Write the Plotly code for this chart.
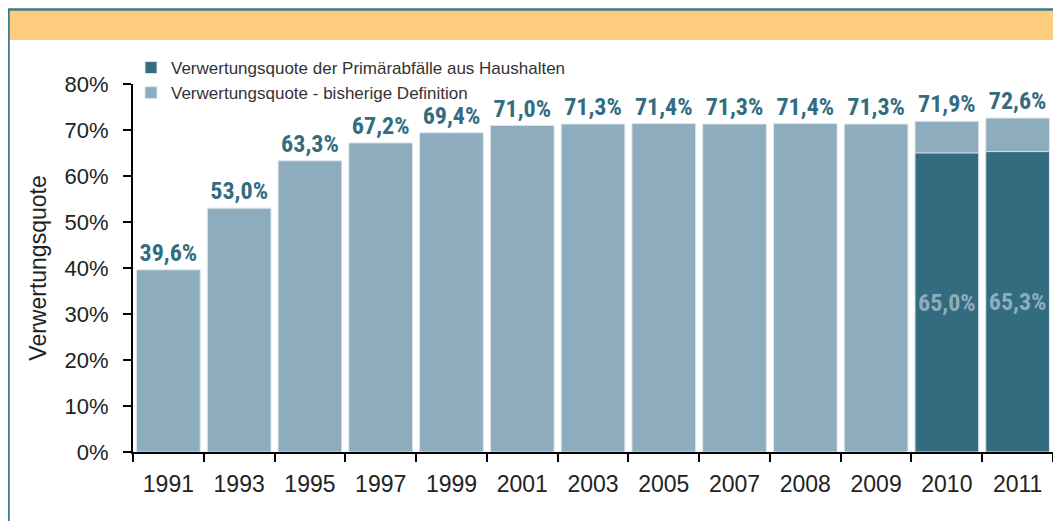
import plotly.graph_objects as go

years = ["1991", "1993", "1995", "1997", "1999", "2001", "2003", "2005", "2007", "2008", "2009", "2010", "2011"]
quote_bisherig = [39.6, 53.0, 63.3, 67.2, 69.4, 71.0, 71.3, 71.4, 71.3, 71.4, 71.3, 71.9, 72.6]
quote_primaer = [None, None, None, None, None, None, None, None, None, None, None, 65.0, 65.3]
y_ticks = [0, 10, 20, 30, 40, 50, 60, 70, 80]
y_ticktext = ["0%", "10%", "20%", "30%", "40%", "50%", "60%", "70%", "80%"]

LIGHT = "#8DACBD"
DARK = "#336C7F"
LABEL_FONT = "Roboto Condensed, Open Sans Condensed, DejaVu Sans Condensed, sans-serif"

fig = go.Figure()
fig.add_trace(go.Bar(
    x=years, y=quote_bisherig, name="Verwertungsquote - bisherige Definition",
    marker=dict(color=LIGHT, line=dict(color="#DCE6EB", width=1)),
    texttemplate="%{y:.1f}%", textposition="outside", textangle=0,
    textfont=dict(family=LABEL_FONT, size=25, color=DARK, weight="bold"),
    cliponaxis=False,
))
fig.add_trace(go.Bar(
    x=years, y=quote_primaer, name="Verwertungsquote der Primärabfälle aus Haushalten",
    marker=dict(color=DARK, line=dict(color="#DCE6EB", width=1)),
    texttemplate="%{y:.1f}%", textposition="inside", insidetextanchor="middle", textangle=0,
    textfont=dict(family=LABEL_FONT, size=25, color=LIGHT, weight="bold"),
    cliponaxis=False,
))

# page offset (body margin) of 8px
OFF = 8
W, H = 1061 - OFF, 521 - OFF
L, R = 133 - OFF, 8
T = 84 - OFF
B = H - (452 - OFF)
pw, ph = W - L - R, H - T - B
def px(xs):
    return (xs - OFF - L) / pw
def py(ys):
    return (H - B - (ys - OFF)) / ph

shapes = [
    dict(type="rect", xref="paper", yref="paper", x0=px(8), x1=px(1075), y0=py(40), y1=py(10),
         fillcolor="#FDCC7D", line=dict(width=0), layer="below"),
    dict(type="line", xref="paper", yref="paper", x0=px(8), x1=px(1075), y0=py(9.5), y1=py(9.5),
         line=dict(color="#3E7A8E", width=2.5)),
    dict(type="line", xref="paper", yref="paper", x0=px(8.5), x1=px(8.5), y0=py(9), y1=py(540),
         line=dict(color="#3E7A8E", width=2.5)),
]

fig.update_layout(
    width=W, height=H,
    margin=dict(l=L, r=R, t=T, b=B, autoexpand=False),
    paper_bgcolor="white", plot_bgcolor="white",
    barmode="overlay", bargap=0.1,
    separators=",.",
    font=dict(family="Liberation Sans, Arial, sans-serif", size=22, color="#222"),
    showlegend=True,
    legend=dict(traceorder="reversed", x=px(131), y=py(50), xanchor="left", yanchor="top",
                font=dict(size=17, color="#333"), tracegroupgap=0,
                bgcolor="rgba(0,0,0,0)"),
    shapes=shapes,
    uniformtext=dict(minsize=10, mode="show"),
)
fig.update_xaxes(
    type="category", showline=True, linecolor="black", linewidth=2,
    ticks="outside", tickson="boundaries", ticklen=8, tickwidth=2, tickcolor="black",
    tickfont=dict(size=23, color="#222"), showgrid=False, ticklabelstandoff=10,
)
fig.update_yaxes(
    range=[0, 80], tickvals=y_ticks, ticktext=y_ticktext,
    showline=True, linecolor="black", linewidth=2,
    ticks="outside", ticklen=8, tickwidth=2, tickcolor="black",
    tickfont=dict(size=22, color="#222"), showgrid=False, zeroline=False, ticklabelstandoff=10,
    title=dict(text="Verwertungsquote", font=dict(size=23, color="#222"), standoff=12),
)

fig.write_html("out.html")
